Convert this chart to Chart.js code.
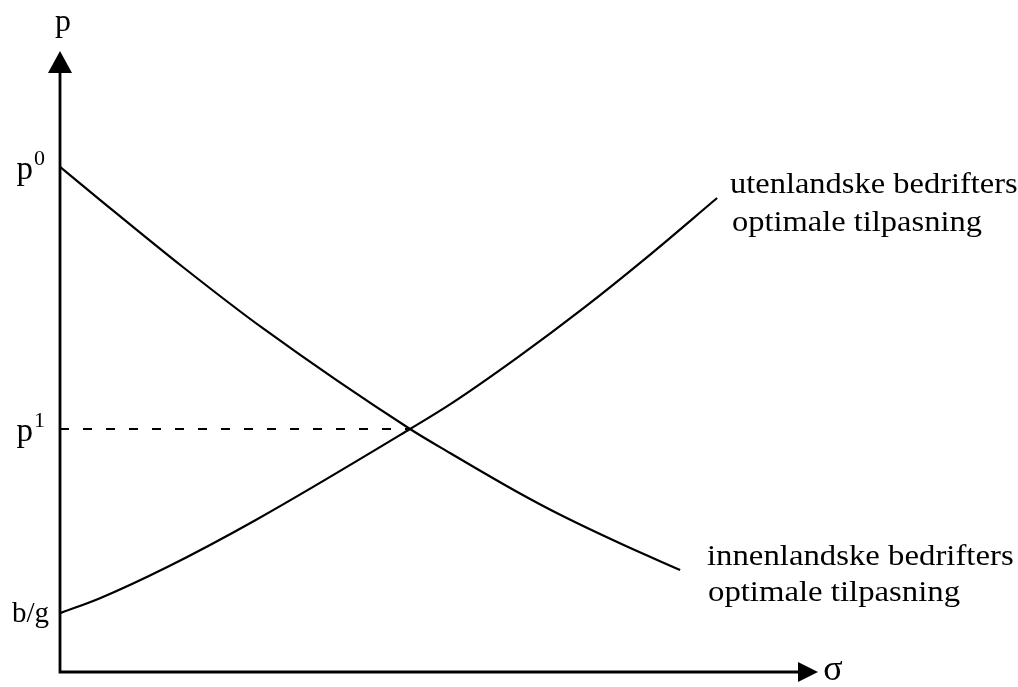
<!DOCTYPE html>
<html>
<head>
<meta charset="utf-8">
<script src="https://cdn.jsdelivr.net/npm/chart.js@4.4.1/dist/chart.umd.min.js"></script>
<style>
  html, body { margin: 0; background: #fff; }
  #wrap { width: 1018px; height: 687px; }
</style>
</head>
<body>
<div id="wrap"><canvas id="chart" width="1018" height="687"></canvas></div>
<script>
// sigma (x) and p (y) values, axes 0..100
const domesticX = [0, 5.4, 16.6, 27.4, 47.3, 52.7, 61.8, 67.6, 76.1, 83.8];
const domesticY = [84.2, 78.7, 67.5, 57.3, 40.5, 36.5, 30.0, 26.2, 21.2, 17.0];
const foreignX = [0, 5.4, 14.5, 26.4, 47.3, 52.7, 61.8, 70.7, 79.1, 88.8];
const foreignY = [9.8, 12.3, 17.5, 25.3, 40.5, 44.6, 52.4, 60.6, 68.9, 79.0];
const equilibrium = { x: 47.3, y: 40.5 };
const yTickValues = [84.2, 40.5, 9.8];
const yTickNames = [['p', '0'], ['p', '1'], ['b/g', '']];
const foreignLabel = ['utenlandske bedrifters', 'optimale tilpasning'];
const domesticLabel = ['innenlandske bedrifters', 'optimale tilpasning'];

const toPoints = (xs, ys) => xs.map((x, i) => ({ x, y: ys[i] }));

const serif = '"Liberation Serif", "DejaVu Serif", serif';

// wider type like the scanned original
function wideText(ctx, text, x, y, sx) {
  ctx.save();
  ctx.translate(x, y);
  ctx.scale(sx, 1);
  ctx.fillText(text, 0, 0);
  ctx.restore();
}

const axesPlugin = {
  id: 'axesPlugin',
  afterDatasetsDraw(chart) {
    const { ctx, chartArea: a, scales } = chart;
    ctx.save();
    ctx.strokeStyle = '#000';
    ctx.fillStyle = '#000';
    ctx.lineWidth = 2.8;

    // axes
    ctx.beginPath();
    ctx.moveTo(a.left, a.top);
    ctx.lineTo(a.left, a.bottom);
    ctx.lineTo(a.right, a.bottom);
    ctx.stroke();

    // arrow heads
    ctx.beginPath();
    ctx.moveTo(a.left, a.top - 21);
    ctx.lineTo(a.left - 12, a.top + 1);
    ctx.lineTo(a.left + 12, a.top + 1);
    ctx.closePath();
    ctx.fill();
    ctx.beginPath();
    ctx.moveTo(a.right + 18, a.bottom);
    ctx.lineTo(a.right - 2, a.bottom - 10);
    ctx.lineTo(a.right - 2, a.bottom + 10);
    ctx.closePath();
    ctx.fill();

    // axis names
    ctx.textAlign = 'center';
    ctx.textBaseline = 'alphabetic';
    ctx.font = '32px ' + serif;
    ctx.fillText('p', a.left + 3, 31);
    ctx.font = '36px ' + serif;
    ctx.fillText('σ', a.right + 33, a.bottom + 8);

    // y labels
    yTickValues.forEach((v, i) => {
      const py = scales.y.getPixelForValue(v);
      const [main, sup] = yTickNames[i];
      ctx.textAlign = 'right';
      if (sup) {
        ctx.font = '22px ' + serif;
        ctx.fillText(sup, a.left - 15, py - 2);
        const supW = ctx.measureText(sup).width;
        ctx.font = '33px ' + serif;
        ctx.fillText(main, a.left - 15 - supW - 1, py + 12);
      } else {
        ctx.font = '29px ' + serif;
        ctx.fillText(main, a.left - 11, py + 9);
      }
    });

    // curve labels
    ctx.font = '29px ' + serif;
    ctx.textAlign = 'left';
    wideText(ctx, foreignLabel[0], 730, 193, 1.12);
    wideText(ctx, foreignLabel[1], 732, 231, 1.12);
    wideText(ctx, domesticLabel[0], 707, 565, 1.13);
    wideText(ctx, domesticLabel[1], 708, 601, 1.13);
    ctx.restore();
  }
};

new Chart(document.getElementById('chart'), {
  type: 'scatter',
  data: {
    datasets: [
      {
        label: 'innenlandske',
        data: toPoints(domesticX, domesticY),
        showLine: true,
        borderColor: '#000',
        borderWidth: 2.2,
        pointRadius: 0,
        cubicInterpolationMode: 'monotone'
      },
      {
        label: 'utenlandske',
        data: toPoints(foreignX, foreignY),
        showLine: true,
        borderColor: '#000',
        borderWidth: 2.2,
        pointRadius: 0,
        cubicInterpolationMode: 'monotone'
      },
      {
        label: 'p1',
        data: [{ x: 0, y: equilibrium.y }, { x: equilibrium.x, y: equilibrium.y }],
        showLine: true,
        borderColor: '#000',
        borderWidth: 1.8,
        borderDash: [9, 14],
        pointRadius: 0
      }
    ]
  },
  options: {
    responsive: false,
    animation: false,
    layout: { padding: { left: 60, right: 218, top: 72, bottom: 15 } },
    plugins: {
      legend: { display: false },
      tooltip: { enabled: false }
    },
    scales: {
      x: { type: 'linear', min: 0, max: 100, display: false },
      y: { type: 'linear', min: 0, max: 100, display: false }
    }
  },
  plugins: [axesPlugin]
});
</script>
</body>
</html>
